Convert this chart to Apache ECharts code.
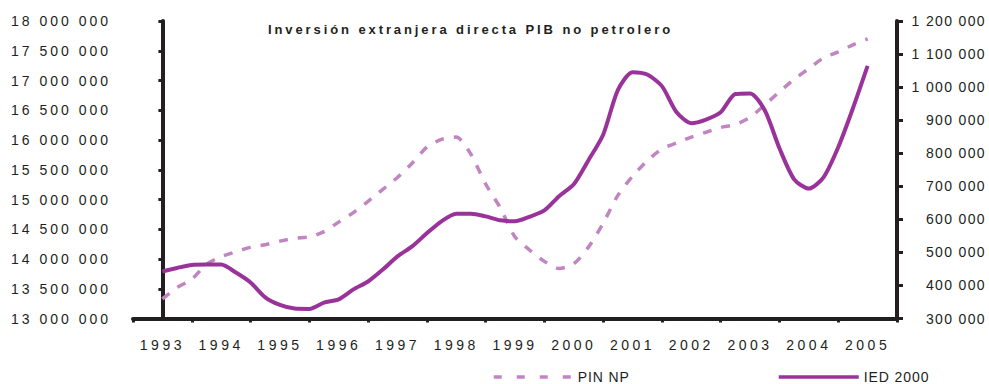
<!DOCTYPE html>
<html>
<head>
<meta charset="utf-8">
<script src="https://cdn.jsdelivr.net/npm/echarts@6/dist/echarts.min.js"></script>
<style>
  html, body { margin: 0; padding: 0; background: #fff; }
  #chart { width: 989px; height: 384px; }
</style>
</head>
<body>
<div id="chart"></div>
<script>
// Year categories on the horizontal axis
const years = ['1993','1994','1995','1996','1997','1998','1999','2000','2001','2002','2003','2004','2005'];

// Quarterly series, first value = start of 1993, last value = start of 2005
// PIN NP (non-oil GDP), left axis
const pinNp = [
  13330000, 13520000, 13660000, 13910000, 14040000, 14120000, 14200000, 14240000,
  14300000, 14350000, 14370000, 14460000, 14620000, 14780000, 14970000, 15170000,
  15370000, 15610000, 15880000, 16010000, 16050000, 15760000, 15260000, 14860000,
  14370000, 14150000, 13960000, 13840000, 13920000, 14200000, 14600000, 15070000,
  15390000, 15650000, 15850000, 15950000, 16050000, 16130000, 16210000, 16260000,
  16380000, 16590000, 16810000, 17020000, 17200000, 17380000, 17480000, 17600000,
  17700000
];
// IED 2000 (foreign direct investment), right axis
const ied = [
  442000, 453000, 462000, 463000, 463000, 439000, 409000, 364000,
  341000, 330000, 329000, 348000, 358000, 388000, 412000, 448000,
  488000, 518000, 558000, 594000, 617000, 617000, 609000, 597000,
  594000, 608000, 627000, 670000, 706000, 779000, 856000, 991000,
  1045000, 1038000, 1003000, 924000, 891000, 902000, 924000, 979000,
  981000, 930000, 815000, 721000, 693000, 727000, 818000, 936000,
  1064000
];
const pointsPerYear = 4;

// Axis ranges
const leftMin = 13000000, leftMax = 18000000, leftStep = 500000;
const rightMin = 300000, rightMax = 1200000, rightStep = 100000;

const titleText = 'Inversión extranjera directa PIB no petrolero';
const nameA = 'PIN NP';
const nameB = 'IED 2000';

const ink = '#231f20';
const font = "'Liberation Sans', Arial, sans-serif";
const colA = '#c185c1';
const colB = '#993399';

function spaced(v) {
  return String(v).replace(/\B(?=(\d{3})+(?!\d))/g, ' ');
}
function toPairs(arr) {
  return arr.map((v, i) => [i / pointsPerYear, v]);
}

const axisLine = { show: true, lineStyle: { color: ink, width: 4 } };

const chart = echarts.init(document.getElementById('chart'), null, { renderer: 'svg' });

chart.setOption({
  animation: false,
  backgroundColor: '#fff',
  title: {
    text: titleText,
    left: 268, top: 23, padding: 0,
    textStyle: { fontFamily: font, fontSize: 13, fontWeight: 'bold', color: ink }
  },
  legend: [
    {
      data: [nameA], left: 492, top: 370, padding: 0,
      itemWidth: 78, itemHeight: 10, itemGap: 0,
      lineStyle: { type: [8, 15], width: 3.5 },
      itemStyle: { opacity: 0 },
      textStyle: { fontFamily: font, fontSize: 14, color: ink, padding: [0, 0, 0, 1] }
    },
    {
      data: [nameB], left: 777, top: 370, padding: 0,
      itemWidth: 80, itemHeight: 10, itemGap: 0,
      lineStyle: { width: 3.5 },
      itemStyle: { opacity: 0 },
      textStyle: { fontFamily: font, fontSize: 14, color: ink }
    }
  ],
  grid: { left: 133, right: 92, top: 21, bottom: 65.5, containLabel: false },
  xAxis: [
    {
      type: 'category', data: years, boundaryGap: true,
      axisLine: axisLine,
      axisTick: { show: true, length: 4, lineStyle: { color: ink, width: 3 } },
      axisLabel: { margin: 19, fontFamily: font, fontSize: 14, color: ink }
    },
    {
      type: 'value', min: -0.5, max: years.length - 0.5, show: false
    }
  ],
  yAxis: [
    {
      type: 'value', position: 'left',
      min: leftMin, max: leftMax, interval: leftStep,
      splitLine: { show: false },
      axisLine: axisLine,
      axisTick: { show: true, length: 4, lineStyle: { color: ink, width: 3 } },
      axisLabel: { margin: 22, fontFamily: font, fontSize: 14, color: ink, formatter: spaced }
    },
    {
      type: 'value', position: 'right',
      min: rightMin, max: rightMax, interval: rightStep,
      splitLine: { show: false },
      axisLine: axisLine,
      axisTick: { show: true, length: 6, lineStyle: { color: ink, width: 3 } },
      axisLabel: { margin: 89, align: 'right', fontFamily: font, fontSize: 14, color: ink, formatter: spaced }
    }
  ],
  series: [
    {
      name: nameA, type: 'line', xAxisIndex: 1, yAxisIndex: 0,
      data: toPairs(pinNp), symbol: 'none', smooth: 0.25,
      lineStyle: { color: colA, width: 3.5, type: [9, 10] },
      itemStyle: { color: colA }, z: 2
    },
    {
      name: nameB, type: 'line', xAxisIndex: 1, yAxisIndex: 1,
      data: toPairs(ied), symbol: 'none', smooth: 0.25,
      lineStyle: { color: colB, width: 4 },
      itemStyle: { color: colB }, z: 3
    }
  ]
});

// Wide character spacing of the printed labels
function trackingFor(txt) {
  if (txt === titleText) return 2.9;
  if (years.indexOf(txt) >= 0) return 3.5;
  if (txt === nameA || txt === nameB) return 0.9;
  const digits = txt.replace(/\s/g, '');
  if (/^\d+$/.test(digits)) return digits.length >= 8 ? 3 : 1.35;
  return 0;
}
function applyTracking() {
  chart.getDom().querySelectorAll('text').forEach(el => {
    const s = trackingFor(el.textContent);
    if (s) el.style.letterSpacing = s + 'px';
  });
}
chart.on('finished', applyTracking);
applyTracking();
setTimeout(applyTracking, 0);
</script>
</body>
</html>
